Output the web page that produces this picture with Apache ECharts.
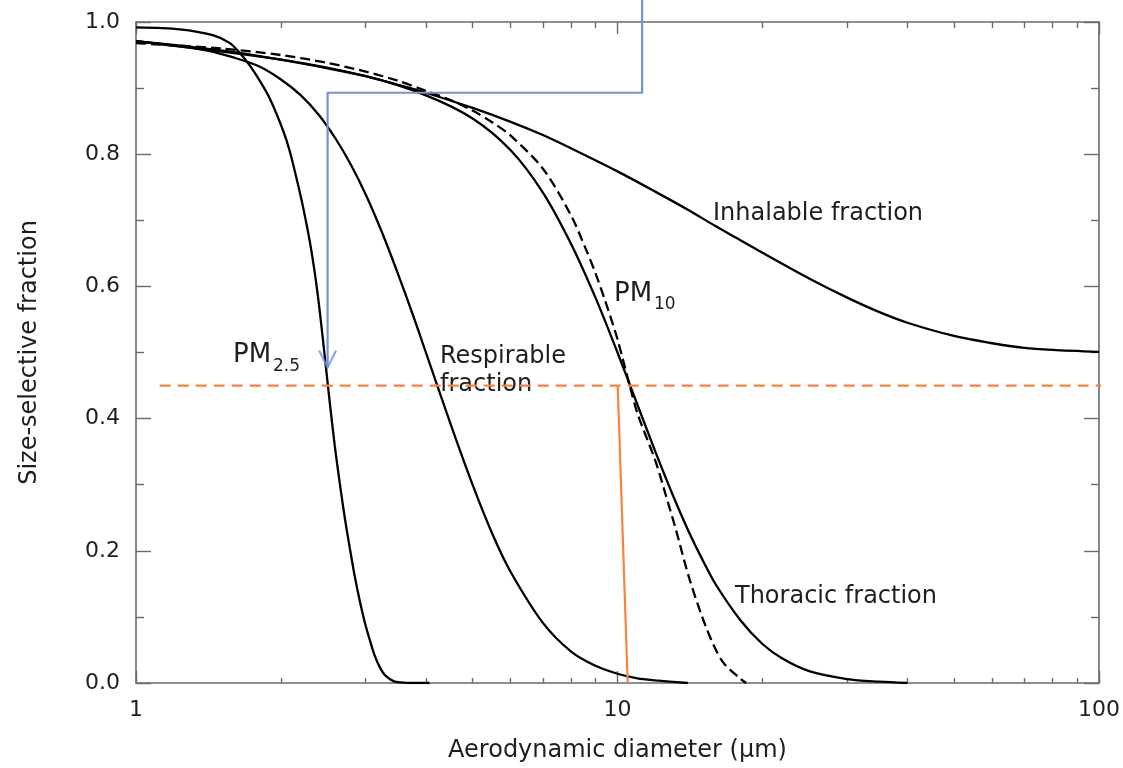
<!DOCTYPE html>
<html>
<head>
<meta charset="utf-8">
<script src="https://cdn.jsdelivr.net/npm/echarts@6/dist/echarts.min.js"></script>
<style>
html,body{margin:0;padding:0;background:#fff;}
#chart{width:1123px;height:768px;}
</style>
</head>
<body>
<div id="chart"></div>
<script>
// ---- Data ----
const xTickLabels = [1, 10, 100];
const xMinorTicks = [2, 3, 4, 5, 6, 7, 8, 9, 20, 30, 40, 50, 60, 70, 80, 90];

const inhalableD = [1, 1.5, 2, 2.5, 3, 3.5, 4, 5, 6, 7, 8, 10, 12, 14, 16, 18, 20, 25, 30, 35, 40, 50, 60, 70, 80, 100];
const inhalableF = [0.971, 0.957, 0.943, 0.930, 0.918, 0.905, 0.893, 0.870, 0.849, 0.829, 0.809, 0.774, 0.743, 0.716, 0.691, 0.670, 0.651, 0.612, 0.583, 0.561, 0.545, 0.525, 0.514, 0.507, 0.504, 0.501];

const thoracicD = [1, 2, 3, 4, 5, 6, 7, 8, 9, 10, 11, 12, 13, 14, 15, 16, 18, 20, 22, 25, 30, 35, 40];
const thoracicF = [0.971, 0.943, 0.918, 0.889, 0.854, 0.806, 0.742, 0.665, 0.583, 0.500, 0.421, 0.349, 0.286, 0.232, 0.187, 0.149, 0.095, 0.059, 0.037, 0.018, 0.006, 0.002, 0.000];

const respirableD = [1, 1.2, 1.4, 1.6, 1.8, 2, 2.2, 2.4, 2.6, 2.8, 3, 3.25, 3.5, 3.75, 4, 4.5, 5, 5.5, 6, 7, 8, 9, 10, 11, 12, 14];
const respirableF = [0.971, 0.964, 0.957, 0.946, 0.933, 0.913, 0.889, 0.859, 0.823, 0.783, 0.739, 0.680, 0.619, 0.559, 0.500, 0.392, 0.300, 0.225, 0.168, 0.091, 0.048, 0.026, 0.014, 0.007, 0.004, 0.000];

const pm10D = [1, 1.5, 2, 2.5, 3, 3.5, 4, 4.5, 5, 5.5, 6, 7, 8, 8.6, 9, 9.4, 10, 10.6, 11, 12, 12.6, 13.2, 14.1, 15.3, 16.5, 17.9, 18.5];
const pm10F = [0.968, 0.960, 0.950, 0.938, 0.925, 0.911, 0.896, 0.882, 0.866, 0.848, 0.828, 0.778, 0.708, 0.656, 0.620, 0.581, 0.520, 0.450, 0.408, 0.335, 0.284, 0.234, 0.158, 0.083, 0.033, 0.008, 0.000];

const pm25D = [1, 1.234, 1.444, 1.567, 1.643, 1.724, 1.808, 1.897, 2.018, 2.087, 2.189, 2.242, 2.296, 2.352, 2.409, 2.467, 2.526, 2.587, 2.650, 2.714, 2.780, 2.847, 2.916, 2.986, 3.059, 3.133, 3.208, 3.286, 3.365, 3.446, 3.529, 3.702, 4.07];
const pm25F = [0.992, 0.989, 0.980, 0.968, 0.953, 0.934, 0.911, 0.884, 0.837, 0.804, 0.742, 0.707, 0.668, 0.620, 0.561, 0.493, 0.424, 0.359, 0.302, 0.250, 0.204, 0.161, 0.124, 0.092, 0.065, 0.041, 0.024, 0.012, 0.006, 0.002, 0.001, 0.000, 0.000];

// annotation lines
const blueD = [11.25, 11.25, 2.5, 2.5];
const blueF = [1.04, 0.893, 0.893, 0.478];
const orangeDashD = [1.12, 111.6];
const orangeDashF = [0.45, 0.45];
const orangeSolidD = [10.01, 10.50];
const orangeSolidF = [0.45, 0.0];

const zip = (a, b) => a.map((v, i) => [v, b[i]]);

const FONT = '"DejaVu Sans", "Liberation Sans", sans-serif';
const AXIS_COLOR = '#6a6a6a';
const TEXT_COLOR = '#1e1e1e';
const BLUE = '#6f93dc';
const ORANGE = '#f5853a';

const chart = echarts.init(document.getElementById('chart'), null, {renderer: 'canvas'});

function logAxis(position, tickValues, tickLen, showLine, withLabels) {
  const ax = {
    type: 'log', logBase: 10, min: 1, max: 100, position: position, gridIndex: 0,
    axisLine: {show: showLine, lineStyle: {color: AXIS_COLOR, width: 1.6}},
    axisTick: {show: true, inside: true, length: tickLen, customValues: tickValues,
               lineStyle: {color: AXIS_COLOR, width: 1.4}},
    axisLabel: {show: false},
    splitLine: {show: false},
    minorTick: {show: false},
    minorSplitLine: {show: false}
  };
  if (withLabels) {
    ax.axisLabel = {show: true, customValues: xTickLabels, formatter: v => String(v),
      fontFamily: FONT, fontSize: 22, color: TEXT_COLOR, margin: 16};
    ax.name = 'Aerodynamic diameter (\u00b5m)';
    ax.nameLocation = 'middle';
    ax.nameGap = 56;
    ax.nameTextStyle = {fontFamily: FONT, fontSize: 24, color: TEXT_COLOR};
  }
  return ax;
}

function valAxis(position, withLabels) {
  const ax = {
    type: 'value', min: 0, max: 1, interval: 0.2, position: position, gridIndex: 0,
    axisLine: {show: true, lineStyle: {color: AXIS_COLOR, width: 1.6}},
    axisTick: {show: true, inside: true, length: 15, lineStyle: {color: AXIS_COLOR, width: 1.4}},
    minorTick: {show: true, splitNumber: 2, length: 8, lineStyle: {color: AXIS_COLOR, width: 1.4}},
    splitLine: {show: false},
    axisLabel: {show: false}
  };
  if (withLabels) {
    ax.axisLabel = {show: true, formatter: v => v.toFixed(1), fontFamily: FONT, fontSize: 22,
      color: TEXT_COLOR, margin: 16};
    ax.name = 'Size-selective fraction';
    ax.nameLocation = 'middle';
    ax.nameGap = 94;
    ax.nameTextStyle = {fontFamily: FONT, fontSize: 24, color: TEXT_COLOR};
  }
  return ax;
}

const curveStyle = {color: '#000', width: 2.3};

function curve(name, d, f, dashed) {
  return {
    name: name, type: 'line', xAxisIndex: 0, yAxisIndex: 0,
    data: zip(d, f), showSymbol: false, symbol: 'none',
    smooth: 0.3,
    lineStyle: Object.assign({}, curveStyle, dashed ? {type: [10, 5]} : {}),
    z: 5, silent: true
  };
}

const option = {
  animation: false,
  backgroundColor: '#ffffff',
  grid: {left: 136, right: 24, top: 22, bottom: 84, containLabel: false},
  xAxis: [
    logAxis('bottom', xTickLabels, 12, true, true),
    logAxis('bottom', xMinorTicks, 5, false, false),
    logAxis('top', xTickLabels, 12, true, false),
    logAxis('top', xMinorTicks, 6, false, false)
  ],
  yAxis: [valAxis('left', true), valAxis('right', false)],
  series: [
    curve('Inhalable fraction', inhalableD, inhalableF, false),
    curve('Thoracic fraction', thoracicD, thoracicF, false),
    curve('Respirable fraction', respirableD, respirableF, false),
    curve('PM10', pm10D, pm10F, true),
    curve('PM2.5', pm25D, pm25F, false),
    {
      name: 'orange-dash', type: 'line', data: zip(orangeDashD, orangeDashF), symbol: 'none',
      clip: false, lineStyle: {color: ORANGE, width: 2.2, type: [11, 7]}, z: 6, silent: true
    },
    {
      name: 'orange-solid', type: 'line', data: zip(orangeSolidD, orangeSolidF), symbol: 'none',
      clip: false, lineStyle: {color: ORANGE, width: 2.2}, z: 6, silent: true
    },
    {
      name: 'blue-path', type: 'line', data: zip(blueD, blueF), symbol: 'none',
      clip: false, lineStyle: {color: BLUE, width: 2.2, join: 'miter'}, z: 7, silent: true
    },
    {
      name: 'blue-arrow', type: 'scatter',
      data: [[blueD[blueD.length - 1], blueF[blueF.length - 1]]],
      symbol: 'path://M0,0 L9,16 L18,0', symbolSize: [17, 17], symbolOffset: [0, -8],
      symbolKeepAspect: false,
      itemStyle: {color: 'rgba(0,0,0,0)', borderColor: BLUE, borderWidth: 2.2},
      z: 7, silent: true, clip: false
    }
  ],
  graphic: [
    {type: 'text', x: 713, y: 214, style: {text: 'Inhalable fraction', font: '24px ' + FONT, fill: TEXT_COLOR, verticalAlign: 'middle'}},
    {type: 'text', x: 735, y: 597, style: {text: 'Thoracic fraction', font: '24px ' + FONT, fill: TEXT_COLOR, verticalAlign: 'middle'}},
    {type: 'text', x: 440, y: 357, style: {text: 'Respirable', font: '24px ' + FONT, fill: TEXT_COLOR, verticalAlign: 'middle'}},
    {type: 'text', x: 440, y: 385, style: {text: 'fraction', font: '24px ' + FONT, fill: TEXT_COLOR, verticalAlign: 'middle'}},
    {type: 'text', x: 614, y: 294, style: {text: 'PM', font: '26px ' + FONT, fill: TEXT_COLOR, verticalAlign: 'middle'}},
    {type: 'text', x: 654, y: 305, style: {text: '10', font: '17px ' + FONT, fill: TEXT_COLOR, verticalAlign: 'middle'}},
    {type: 'text', x: 233, y: 355, style: {text: 'PM', font: '26px ' + FONT, fill: TEXT_COLOR, verticalAlign: 'middle'}},
    {type: 'text', x: 273, y: 367, style: {text: '2.5', font: '17px ' + FONT, fill: TEXT_COLOR, verticalAlign: 'middle'}}
  ]
};

chart.setOption(option);
</script>
</body>
</html>
